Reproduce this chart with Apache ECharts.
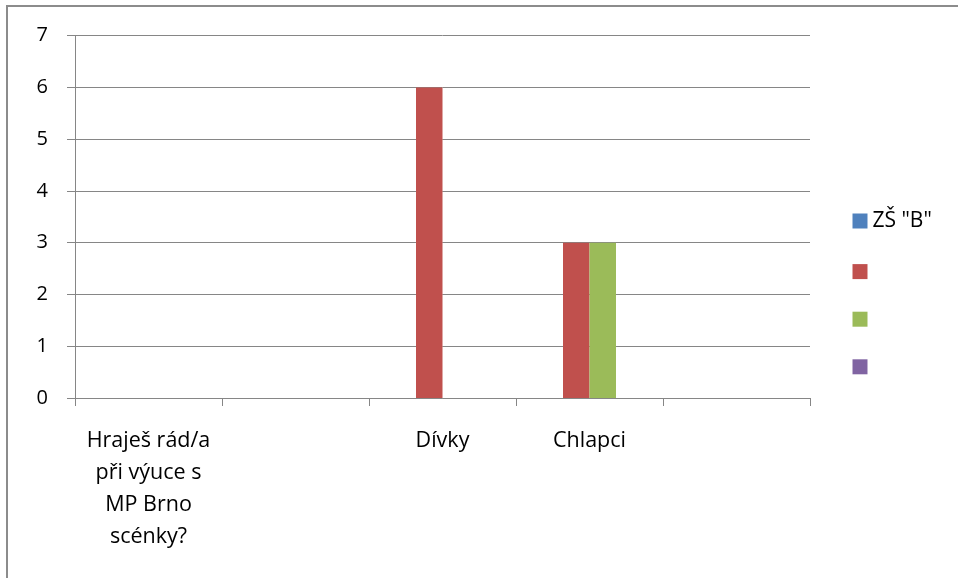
<!DOCTYPE html>
<html>
<head>
<meta charset="utf-8">
<script src="https://cdn.jsdelivr.net/npm/echarts@6/dist/echarts.min.js"></script>
<style>
html,body{margin:0;padding:0;background:#fff;}
#c{width:958px;height:578px;}
</style>
</head>
<body>
<div id="c"></div>
<script>
const categories = ['Hraješ rád/a\npři výuce s\nMP Brno\nscénky?', '', 'Dívky', 'Chlapci', ''];
const seriesNames = ['ZŠ "B"', ' ', '  ', '   '];
const seriesBlue = [0, 0, 0, 0, 0];
const seriesRed = [0, 0, 6, 3, 0];
const seriesGreen = [0, 0, 0, 3, 0];
const seriesPurple = [0, 0, 0, 0, 0];
const yTicks = [0, 1, 2, 3, 4, 5, 6, 7];

const colors = ['#4F81BD', '#C0504D', '#9BBB59', '#8064A2'];
const values = [seriesBlue, seriesRed, seriesGreen, seriesPurple];
const FONT = 'Open Sans';
const gray = '#868686';

const chart = echarts.init(document.getElementById('c'), null, {renderer: 'canvas'});
chart.setOption({
  animation: false,
  color: colors,
  textStyle: {fontFamily: FONT},
  graphic: [{
    type: 'rect',
    shape: {x: 7, y: 6, width: 1000, height: 1000},
    style: {fill: 'none', stroke: '#8c8c8c', lineWidth: 2},
    silent: true
  }],
  grid: {left: 75, right: 148, top: 35.7, bottom: 180, containLabel: false},
  legend: {
    orient: 'vertical',
    left: 852.5,
    top: 210.5,
    padding: 0,
    itemWidth: 15,
    itemHeight: 15,
    itemGap: 32.6,
    icon: 'rect',
    data: seriesNames,
    formatter: function (n) { return n.trim(); },
    textStyle: {fontFamily: FONT, fontSize: 21, color: '#000', lineHeight: 15}
  },
  xAxis: {
    type: 'category',
    data: categories,
    boundaryGap: true,
    axisLine: {lineStyle: {color: gray, width: 1}},
    axisTick: {show: true, length: 8, lineStyle: {color: gray}},
    axisLabel: {
      interval: 0,
      margin: 27,
      fontFamily: FONT,
      fontSize: 21.5,
      color: '#000',
      lineHeight: 32,
      align: 'center'
    },
    splitLine: {show: false}
  },
  yAxis: {
    type: 'value',
    min: yTicks[0],
    max: yTicks[yTicks.length - 1],
    interval: 1,
    axisLine: {show: true, lineStyle: {color: gray, width: 1}},
    axisTick: {show: true, length: 8, lineStyle: {color: gray}},
    axisLabel: {margin: 27, fontFamily: FONT, fontSize: 20, color: '#000', padding: [0, 0, 6, 0]},
    splitLine: {show: true, lineStyle: {color: gray, width: 1}}
  },
  series: values.map(function (v, i) {
    return {
      name: seriesNames[i],
      type: 'bar',
      data: v,
      barWidth: 26.5,
      barGap: '0%',
      itemStyle: {color: colors[i]}
    };
  })
});
</script>
</body>
</html>
